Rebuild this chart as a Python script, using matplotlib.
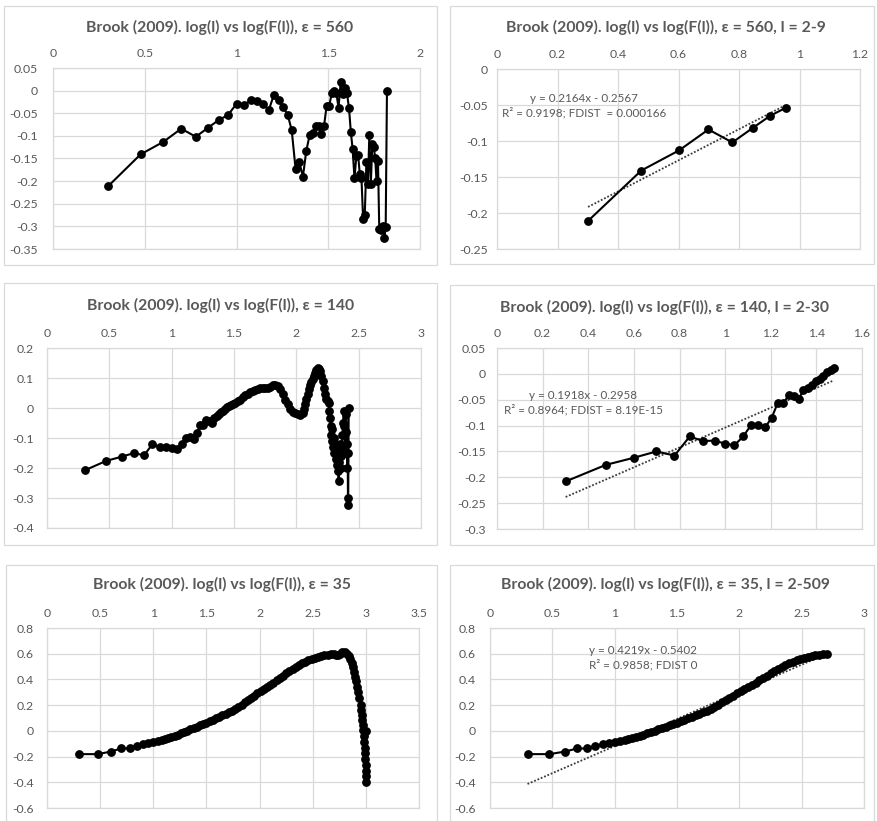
import numpy as np
import matplotlib.pyplot as plt
from matplotlib.patches import Rectangle

W, H = 877, 821

# eps = 560, log(l) vs log(F(l))
x560 = [0.301, 0.477, 0.602, 0.699, 0.778, 0.845, 0.903, 0.954, 1.000, 1.041,
        1.079, 1.114, 1.146, 1.176, 1.204, 1.230, 1.255, 1.279, 1.301, 1.322,
        1.342, 1.362, 1.380, 1.398, 1.415, 1.431, 1.447, 1.462, 1.477, 1.491,
        1.505, 1.519, 1.531, 1.544, 1.556, 1.568, 1.580, 1.591, 1.602, 1.613,
        1.623, 1.633, 1.643, 1.653, 1.663, 1.672, 1.681, 1.690, 1.699, 1.708,
        1.716, 1.724, 1.732, 1.740, 1.748, 1.756, 1.763, 1.771, 1.778, 1.785,
        1.792, 1.799, 1.806, 1.813, 1.820]
y560 = [-0.211, -0.141, -0.113, -0.084, -0.102, -0.082, -0.065, -0.054, -0.029, -0.031,
        -0.021, -0.022, -0.029, -0.043, -0.009, -0.021, -0.037, -0.053, -0.088, -0.173,
        -0.158, -0.190, -0.134, -0.099, -0.094, -0.078, -0.078, -0.096, -0.078, -0.034,
        -0.034, -0.006, 0.000, -0.005, -0.038, 0.020, -0.008, 0.005, -0.006, -0.038,
        -0.091, -0.130, -0.194, -0.145, -0.143, -0.185, -0.194, -0.283, -0.274, -0.157,
        -0.207, -0.097, -0.207, -0.118, -0.125, -0.150, -0.200, -0.155, -0.305, -0.308,
        -0.302, -0.300, -0.326, -0.302, 0.000]

# eps = 140
x140 = [0.301, 0.477, 0.602, 0.699, 0.778, 0.845, 0.903, 0.954, 1.000, 1.041,
        1.079, 1.114, 1.146, 1.176, 1.204, 1.230, 1.255, 1.279, 1.301, 1.322,
        1.342, 1.362, 1.380, 1.398, 1.415, 1.431, 1.447, 1.462, 1.477,
        1.49, 1.51, 1.53, 1.55, 1.57, 1.59, 1.61, 1.63, 1.65, 1.67,
        1.69, 1.71, 1.73, 1.75, 1.77, 1.79, 1.81, 1.83, 1.85, 1.87,
        1.89, 1.91, 1.93, 1.95, 1.97, 1.99, 2.01, 2.03, 2.05, 2.06,
        2.07, 2.08, 2.09, 2.10, 2.11, 2.12, 2.13, 2.14, 2.15, 2.16,
        2.17, 2.18, 2.19, 2.20, 2.21, 2.22, 2.23, 2.24, 2.25, 2.26,
        2.265, 2.27, 2.275, 2.28, 2.285, 2.29, 2.295, 2.30, 2.305, 2.31,
        2.315, 2.32, 2.325, 2.33, 2.335, 2.34, 2.345, 2.35, 2.355, 2.36,
        2.365, 2.37, 2.375, 2.38, 2.385, 2.39, 2.395, 2.40, 2.405, 2.41,
        2.412, 2.414, 2.416, 2.42]
y140 = [-0.208, -0.176, -0.162, -0.150, -0.158, -0.121, -0.130, -0.129, -0.135, -0.138,
        -0.121, -0.099, -0.098, -0.103, -0.085, -0.057, -0.057, -0.041, -0.042, -0.049,
        -0.032, -0.028, -0.021, -0.014, -0.009, -0.005, 0.003, 0.008, 0.011,
        0.013, 0.018, 0.022, 0.028, 0.035, 0.042, 0.048, 0.053, 0.056, 0.059,
        0.062, 0.065, 0.066, 0.067, 0.068, 0.071, 0.075, 0.077, 0.072, 0.062,
        0.045, 0.028, 0.012, -0.002, -0.012, -0.018, -0.020, -0.022, -0.018, -0.005,
        0.012, 0.030, 0.047, 0.062, 0.075, 0.087, 0.098, 0.108, 0.118, 0.126,
        0.132, 0.130, 0.122, 0.108, 0.090, 0.068, 0.045, 0.030, 0.022, 0.015,
        -0.010, -0.035, -0.060, -0.090, -0.070, -0.110, -0.130, -0.100, -0.150, -0.120,
        -0.170, -0.140, -0.190, -0.150, -0.210, -0.245, -0.180, -0.120, -0.160, -0.200,
        -0.140, -0.090, -0.050, -0.010, -0.060, -0.150, -0.080, -0.020, -0.120, -0.200,
        -0.150, -0.300, -0.325, 0.000]

# eps = 35
x35 = [0.301, 0.477, 0.602, 0.699, 0.778, 0.845, 0.903, 0.954,
       1.00, 1.04, 1.08, 1.11, 1.14, 1.17, 1.20, 1.23, 1.26, 1.29,
       1.32, 1.35, 1.38, 1.41, 1.44, 1.47, 1.50, 1.53, 1.56, 1.59,
       1.62, 1.65, 1.68, 1.71, 1.74, 1.77, 1.80, 1.83, 1.86, 1.89,
       1.92, 1.95, 1.98, 2.01, 2.04, 2.07, 2.10, 2.13, 2.16, 2.19,
       2.22, 2.25, 2.28, 2.31, 2.34, 2.37, 2.40, 2.43, 2.46, 2.49,
       2.52, 2.55, 2.58, 2.61, 2.64, 2.67, 2.70, 2.72, 2.74, 2.76,
       2.78, 2.80, 2.82, 2.84, 2.855, 2.87, 2.88, 2.89, 2.90, 2.91,
       2.92, 2.93, 2.94, 2.95, 2.955, 2.96, 2.965, 2.97, 2.975, 2.98,
       2.985, 2.99, 2.993, 2.996, 2.998, 3.000, 3.000, 3.000, 3.000]
y35 = [-0.181, -0.181, -0.161, -0.137, -0.137, -0.114, -0.104, -0.093,
       -0.088, -0.080, -0.070, -0.062, -0.054, -0.046, -0.038, -0.029, -0.019, -0.009,
       0.001, 0.012, 0.022, 0.033, 0.043, 0.054, 0.065, 0.076, 0.087, 0.099,
       0.110, 0.122, 0.134, 0.146, 0.158, 0.172, 0.187, 0.203, 0.221, 0.240,
       0.258, 0.275, 0.292, 0.308, 0.324, 0.341, 0.358, 0.375, 0.392, 0.410,
       0.428, 0.447, 0.466, 0.483, 0.498, 0.512, 0.525, 0.537, 0.548, 0.558,
       0.566, 0.574, 0.581, 0.587, 0.592, 0.596, 0.598, 0.592, 0.588, 0.600,
       0.612, 0.610, 0.600, 0.585, 0.560, 0.530, 0.495, 0.460, 0.420, 0.385,
       0.345, 0.300, 0.255, 0.205, 0.165, 0.125, 0.085, 0.045, 0.005, -0.040,
       -0.085, -0.130, -0.175, -0.220, -0.265, -0.310, -0.350, -0.400, 0.000]

# trendlines as printed on the charts (slope, intercept, label)
fit_560 = (0.2164, -0.2567, 'y = 0.2164x - 0.2567\nR² = 0.9198; FDIST  = 0.000166')
fit_140 = (0.1918, -0.2958, 'y = 0.1918x - 0.2958\nR² = 0.8964; FDIST = 8.19E-15')
fit_35 = (0.4219, -0.5402, 'y = 0.4219x - 0.5402\nR² = 0.9858; FDIST 0')

titles = ['Brook (2009). log(l) vs log(F(l)), ε = 560',
          'Brook (2009). log(l) vs log(F(l)), ε = 560, l = 2-9',
          'Brook (2009). log(l) vs log(F(l)), ε = 140',
          'Brook (2009). log(l) vs log(F(l)), ε = 140, l = 2-30',
          'Brook (2009). log(l) vs log(F(l)), ε = 35',
          'Brook (2009). log(l) vs log(F(l)), ε = 35, l = 2-509']

xt1 = [0, 0.5, 1, 1.5, 2]
yt1 = [0.05, 0, -0.05, -0.1, -0.15, -0.2, -0.25, -0.3, -0.35]
xt2 = [0, 0.2, 0.4, 0.6, 0.8, 1, 1.2]
yt2 = [0, -0.05, -0.1, -0.15, -0.2, -0.25]
xt3 = [0, 0.5, 1, 1.5, 2, 2.5, 3]
yt3 = [0.2, 0.1, 0, -0.1, -0.2, -0.3, -0.4]
xt4 = [0, 0.2, 0.4, 0.6, 0.8, 1, 1.2, 1.4, 1.6]
yt4 = [0.05, 0, -0.05, -0.1, -0.15, -0.2, -0.25, -0.3]
xt5 = [0, 0.5, 1, 1.5, 2, 2.5, 3, 3.5]
yt5 = [0.8, 0.6, 0.4, 0.2, 0, -0.2, -0.4, -0.6]
xt6 = [0, 0.5, 1, 1.5, 2, 2.5, 3]
yt6 = [0.8, 0.6, 0.4, 0.2, 0, -0.2, -0.4, -0.6]

plt.rcParams['font.family'] = ['Lato', 'DejaVu Sans']
GREY = '#595959'
GRID = '#d9d9d9'

fig = plt.figure(figsize=(W / 100, H / 100), dpi=100)


def to_fig(x0, y0, x1, y1):
    return [x0 / W, 1 - y1 / H, (x1 - x0) / W, (y1 - y0) / H]


def panel(frame, area, title, tpos, x, y, xt, yt, ypad, fit=None, fpos=None):
    l, b, w, h = to_fig(*frame)
    fig.add_artist(Rectangle((l, b), w, h, transform=fig.transFigure,
                             fill=False, ec=GRID, lw=0.9))
    ax = fig.add_axes(to_fig(*area))
    x = np.asarray(x)
    y = np.asarray(y)
    if fit is not None:
        m, c, txt = fit
        xs = np.array([x.min(), x.max()])
        ax.plot(xs, m * xs + c, color='#3a3a3a', lw=1.3, ls=(0, (1, 1)), zorder=2)
        fig.text(fpos[0] / W, 1 - fpos[1] / H, txt, ha='center', va='center',
                 fontsize=8.4, color=GREY, linespacing=1.3)
    ax.plot(x, y, color='black', lw=1.5, marker='o', ms=5.3, zorder=3)
    ax.set_xlim(xt[0], xt[-1])
    ax.set_ylim(yt[-1], yt[0])
    ax.set_xticks(xt)
    ax.set_xticklabels([f'{v:g}' for v in xt])
    ax.set_yticks(yt)
    ax.set_yticklabels([f'{v:g}' for v in yt])
    ax.xaxis.tick_top()
    ax.tick_params(length=0, colors=GREY, labelsize=8.8)
    ax.tick_params(axis='x', pad=6.5)
    ax.tick_params(axis='y', pad=ypad * 0.72)
    ax.grid(color=GRID, lw=0.9)
    ax.set_axisbelow(True)
    for s in ax.spines.values():
        s.set_color(GRID)
        s.set_linewidth(0.9)
    fig.text(tpos[0] / W, 1 - tpos[1] / H, title, ha='center', va='center',
             fontsize=11.3, fontweight='bold', color=GREY)
    return ax


n9 = 8
n30 = 29
n509 = sum(1 for v in x35 if v <= 2.71)

panel((4, 6, 437, 265), (53, 68, 420, 249), titles[0], (220, 27),
      x560, y560, xt1, yt1, 15)
panel((450, 6, 874, 264), (497, 69, 860, 249), titles[1], (666, 27),
      x560[:n9], y560[:n9], xt2, yt2, 9, fit_560, (584, 106))
panel((4, 283, 437, 545), (47, 348, 421, 528), titles[2], (221, 305),
      x140, y140, xt3, yt3, 13)
panel((450, 285, 874, 545), (497, 348, 862, 529), titles[3], (665, 307),
      x140[:n30], y140[:n30], xt4, yt4, 11, fit_140, (583, 403))
panel((6, 565, 437, 840), (47, 628, 419, 808), titles[4], (222, 584),
      x35, y35, xt5, yt5, 13)
panel((450, 565, 874, 840), (490, 628, 864, 808), titles[5], (665, 584),
      x35[:n509], y35[:n509], xt6, yt6, 14, fit_35, (643, 658))

fig.savefig('out.png', dpi=100)
